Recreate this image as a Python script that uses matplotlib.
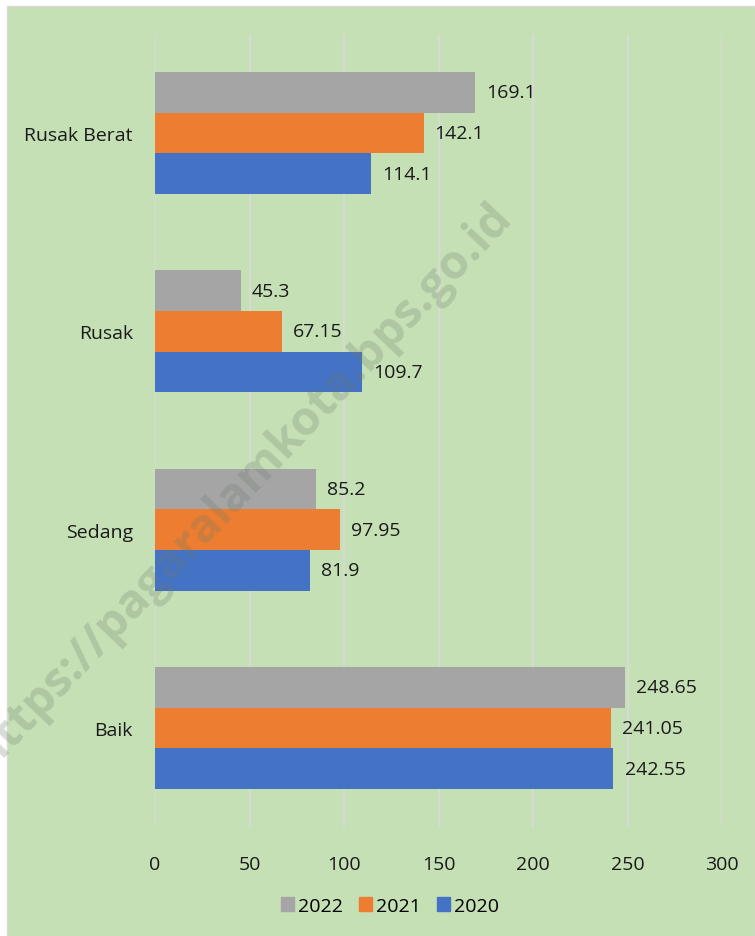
import matplotlib.pyplot as plt
import matplotlib.patches as mpatches
import numpy as np

# data
kategori = ['Baik', 'Sedang', 'Rusak', 'Rusak Berat']
nilai_2022 = [248.65, 85.2, 45.3, 169.1]
nilai_2021 = [241.05, 97.95, 67.15, 142.1]
nilai_2020 = [242.55, 81.9, 109.7, 114.1]
label_2022 = ['248.65', '85.2', '45.3', '169.1']
label_2021 = ['241.05', '97.95', '67.15', '142.1']
label_2020 = ['242.55', '81.9', '109.7', '114.1']
tahun = ['2022', '2021', '2020']
x_ticks = [0, 50, 100, 150, 200, 250, 300]

warna = {'2022': '#A5A5A5', '2021': '#ED7D31', '2020': '#4472C4'}
hijau = '#C5E0B4'

plt.rcParams['font.family'] = ['Open Sans', 'DejaVu Sans']

W, H = 755, 937
fig = plt.figure(figsize=(W / 100, H / 100), dpi=100, facecolor='white')

# green chart area with thin white strip on top/left
bg = mpatches.Rectangle((7 / W, 0), 1 - 7 / W, 1 - 7 / H, transform=fig.transFigure,
                        facecolor=hijau, edgecolor='#D9D9D9', linewidth=1, zorder=-5)
fig.patches.append(bg)

ax = fig.add_axes([155 / W, (H - 828) / H, (722 - 155) / W, (828 - 35) / H])
ax.set_facecolor('none')

y = np.arange(len(kategori))
h = 0.205

seri = [('2022', nilai_2022, label_2022, h),
        ('2021', nilai_2021, label_2021, 0),
        ('2020', nilai_2020, label_2020, -h)]

for nama, vals, labs, off in seri:
    bars = ax.barh(y + off, vals, height=h, color=warna[nama], label=nama, zorder=3)
    for b, lab in zip(bars, labs):
        ax.annotate(lab, (b.get_width(), b.get_y() + b.get_height() / 2),
                    xytext=(8, 0), textcoords='offset points',
                    va='center', ha='left', fontsize=14, color='#1a1a1a')

ax.set_xlim(0, 300)
ax.set_ylim(-0.5, 3.5)
ax.set_xticks(x_ticks)
ax.set_yticks(y)
ax.set_yticklabels(kategori)
ax.tick_params(axis='both', length=0, labelsize=14, colors='#1a1a1a')
ax.tick_params(axis='x', pad=20)
ax.tick_params(axis='y', pad=16)
ax.grid(axis='x', color='#D9D9D9', linewidth=1.3, zorder=0)
for s in ax.spines.values():
    s.set_visible(False)

handles = [mpatches.Patch(color=warna[t]) for t in tahun]
fig.legend(handles, tahun, loc='center', bbox_to_anchor=(390 / W, 1 - 907 / H),
           ncol=3, frameon=False, fontsize=14, handlelength=0.7, handleheight=0.7,
           handletextpad=0.2, columnspacing=0.8)

# watermark
fig.text(242 / W, 1 - 486 / H, 'https://pagaralamkota.bps.go.id', rotation=46.5,
         ha='center', va='center', fontsize=34, fontweight='bold',
         color=(0.42, 0.48, 0.42, 0.26), zorder=10)

fig.savefig('out.png', dpi=100, facecolor='white')
